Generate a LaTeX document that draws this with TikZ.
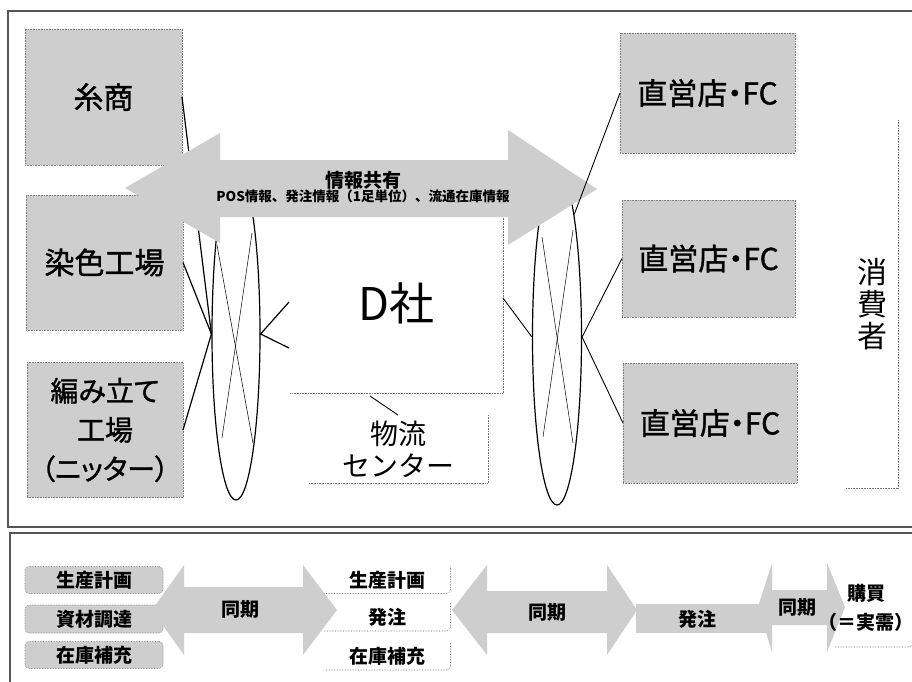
\documentclass[tikz,border=0pt]{standalone}
\usepackage{fontspec}
\setmainfont{Noto Sans CJK JP}
\newfontfamily\jpp[RawFeature=+palt,FakeBold=1.2]{Noto Sans CJK JP}
\usetikzlibrary{shapes.geometric,calc}
\definecolor{boxgray}{RGB}{206,206,206}
\definecolor{framegray}{RGB}{85,85,85}
\begin{document}
\begin{tikzpicture}[x=1pt,y=-1pt,
  gbox/.style={draw=black!50, densely dotted, line width=0.6pt, fill=boxgray, inner sep=0pt, outer sep=0pt, align=center},
  big/.style={font=\jpp\fontsize{30}{39}\selectfont},
  small/.style={font=\bfseries\fontsize{19}{29}\selectfont},
  conn/.style={line width=1.2pt, draw=black},
  connr/.style={line width=0.9pt, draw=black},
  thinl/.style={line width=0.5pt, draw=black},
  edgedot/.style={draw=black!55, densely dotted, line width=0.6pt},
  ell/.style={ellipse, draw=black, line width=1.2pt, inner sep=0pt},
  plain/.style={inner sep=0pt, outer sep=0pt, align=center},
]
\useasboundingbox (0,0) rectangle (912,681);
\fill[white] (0,0) rectangle (912,681);

% frames
\draw[framegray, line width=1.3pt] (8,11) rectangle (930,527);
\draw[framegray, line width=1.3pt] (10,533) rectangle (930,700);

% left boxes
\node[gbox, big, minimum width=157pt, minimum height=136pt] (ito) at (103.5,97) {糸商};
\node[gbox, big, minimum width=157pt, minimum height=135pt] (sen) at (104.5,262.5) {染色工場};
\node[gbox, font=\jpp\fontsize{28}{39}\selectfont, minimum width=156pt, minimum height=135pt] (ami) at (105,430) {編み立て\\工場\\（ニッター）};

% right boxes
\node[gbox, big, minimum width=175pt, minimum height=120pt] (s1) at (707.5,93) {直営店・FC};
\node[gbox, big, minimum width=173pt, minimum height=117pt] (s2) at (708.5,258.5) {直営店・FC};
\node[gbox, big, minimum width=174pt, minimum height=120pt] (s3) at (710,423) {直営店・FC};

% consumer
\node[plain, minimum width=52pt, minimum height=368pt, font=\fontsize{30}{32}\selectfont] (cons) at (872,304) {消\\費\\者};
\draw[edgedot] (cons.north east) -- (cons.south east) -- (cons.south west);

% D company
\node[plain, minimum width=213pt, minimum height=180pt, font=\fontsize{45}{45}\selectfont] (dsha) at (396.5,303) {D社};
\draw[edgedot] (dsha.north east) -- (dsha.south east) -- (dsha.south west);

% logistics center
\node[plain, minimum width=180pt, minimum height=68pt, font=\fontsize{28}{32}\selectfont] (butsu) at (398,449) {物流\\センター};
\draw[edgedot] (butsu.north east) -- (butsu.south east) -- (butsu.south west);
\coordinate (bl1) at (370,396);
\draw[connr] (bl1) -- (butsu.north);

% ellipses
\node[ell, minimum width=48pt, minimum height=332pt] (lell) at (236,334) {};
\node[ell, minimum width=49pt, minimum height=336pt] (rell) at (557,337) {};

% left connections
\draw[conn] (ito.east) -- (lell.west);
\draw[conn] (sen.east) -- (lell.west);
\draw[conn] (ami.east) -- (lell.west);
\coordinate (dl1) at (289,302);
\coordinate (dl2) at (289,348);
\draw[conn] (dl1) -- (lell.east) -- (dl2);
\coordinate (lx1) at (217,245); \coordinate (lx2) at (253,443);
\coordinate (lx3) at (252,233); \coordinate (lx4) at (222,438);
\draw[thinl] (lx1) -- (lx2);
\draw[thinl] (lx3) -- (lx4);

% right connections
\coordinate (dr1) at (503,298);
\draw[connr] (dr1) -- (rell.west);
\draw[connr] (s2.west) -- (rell.east);
\draw[connr] (s3.west) -- (rell.east);
\coordinate (rx1) at (542,237); \coordinate (rx2) at (573,443);
\coordinate (rx3) at (573,230); \coordinate (rx4) at (543,437);
\draw[thinl] (rx1) -- (rx2);
\draw[thinl] (rx3) -- (rx4);

% information sharing arrow
\fill[boxgray] (125,188) -- (220,133) -- (220,160) -- (508,160) -- (508,130) -- (597,189) -- (508,245) -- (508,217) -- (220,217) -- (220,243) -- cycle;
\node[plain, font=\bfseries\fontsize{19}{19}\selectfont] (info) at (363,180) {情報共有};
\node[plain, font=\bfseries\fontsize{13.5}{14}\selectfont] (infod) at (363,196) {POS情報、発注情報（1足単位）、流通在庫情報};

\draw[connr] (s1.west) -- (rell.82);

% ===== bottom strip =====
\node[gbox, rounded corners=4pt, small, minimum width=138pt, minimum height=27pt] (b1) at (94,580) {生産計画};
\node[gbox, rounded corners=4pt, small, minimum width=138pt, minimum height=28pt] (b2) at (94,619) {資材調達};
\node[gbox, rounded corners=4pt, small, minimum width=138pt, minimum height=27pt] (b3) at (94,655) {在庫補充};

\fill[boxgray] (152,610) -- (184,565) -- (184,587) -- (303,587) -- (303,565) -- (337,610) -- (303,655) -- (303,633) -- (184,633) -- (184,655) -- cycle;
\node[plain, small] (sync1) at (240,609) {同期};

\node[plain, small, minimum width=127pt, minimum height=27pt] (m1) at (387,580) {生産計画};
\draw[edgedot, rounded corners=4pt] (m1.north east) -- (m1.south east) -- (m1.south west);
\node[plain, small, minimum width=127pt, minimum height=28pt] (m2) at (387,617) {発注};
\draw[edgedot, rounded corners=4pt] (m2.north east) -- (m2.south east) -- (m2.south west);
\node[plain, small, minimum width=127pt, minimum height=27pt] (m3) at (387,656.5) {在庫補充};
\draw[edgedot, rounded corners=4pt] (m3.north east) -- (m3.south east) -- (m3.south west);

\fill[boxgray] (452,610) -- (487,565) -- (487,591) -- (607,591) -- (607,565) -- (637,610) -- (607,655) -- (607,633) -- (487,633) -- (487,655) -- cycle;
\node[plain, small] (sync2) at (547,612) {同期};

\fill[boxgray] (636,604) rectangle (772,633);
\node[plain, small] (order) at (697,619) {発注};

\fill[boxgray] (758,607) -- (772,563) -- (772,590) -- (827,590) -- (827,563) -- (845,607) -- (827,652) -- (827,625) -- (772,625) -- (772,652) -- cycle;
\node[plain, small] (sync3) at (797,607) {同期};

\node[plain, small, minimum width=84pt, minimum height=78pt] (kou) at (866,608) {購買\\（＝実需）};
\draw[edgedot, rounded corners=5pt] (kou.north east) -- (kou.south east) -- ($(kou.south west)+(16,0)$);
\end{tikzpicture}
\end{document}
